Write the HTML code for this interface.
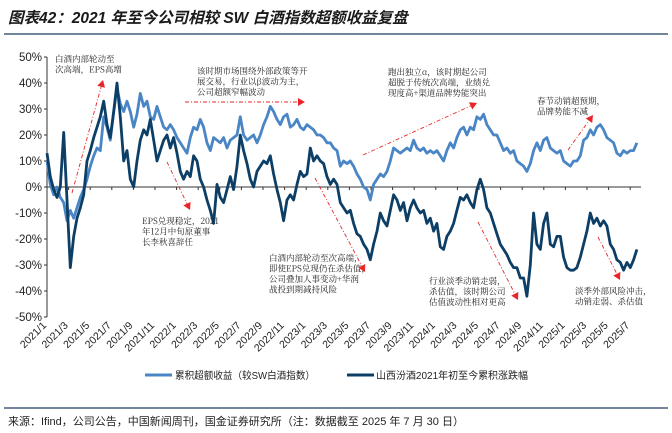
<!DOCTYPE html>
<html><head><meta charset="utf-8">
<style>
body{margin:0;background:#fff;}
svg{display:block;font-family:"Liberation Sans","Noto Sans CJK SC",sans-serif;}
.ann{font-size:8.5px;fill:#222;font-family:"Noto Serif CJK SC","Liberation Serif",serif;}
</style></head><body>
<svg id="chart" width="672" height="433" viewBox="0 0 672 433" xmlns="http://www.w3.org/2000/svg">
<text x="8" y="23" font-size="15.5" font-style="italic" font-weight="bold" fill="#1a1a1a" font-family="Liberation Sans, Noto Sans CJK SC, sans-serif">图表42：2021 年至今公司相较 SW 白酒指数超额收益复盘</text>
<line x1="4" y1="34" x2="668" y2="34" stroke="#1f3f5f" stroke-width="1.3"/>
<g id="axes"></g>
<g id="series"></g>
<g id="annotations"></g>
<g>
 <line x1="145" y1="375" x2="172" y2="375" stroke="#4a86c5" stroke-width="3"/>
 <text x="175" y="379" font-size="10" fill="#222" textLength="140" lengthAdjust="spacingAndGlyphs">累积超额收益（较SW白酒指数）</text>
 <line x1="347" y1="375" x2="374" y2="375" stroke="#0d3f66" stroke-width="3"/>
 <text x="376" y="379" font-size="10" fill="#222" textLength="152" lengthAdjust="spacingAndGlyphs">山西汾酒2021年初至今累积涨跌幅</text>
</g>
<line x1="4" y1="408" x2="668" y2="408" stroke="#1f3f5f" stroke-width="1.3"/>
<text x="8" y="425" font-size="11" fill="#222">来源：Ifind，公司公告，中国新闻周刊，国金证券研究所（注：数据截至 2025 年 7 月 30 日）</text>
</svg>
<script>
const tickLabels=["2021/1","2021/3","2021/5","2021/7","2021/9","2021/11","2022/1","2022/3","2022/5","2022/7","2022/9","2022/11","2023/1","2023/3","2023/5","2023/7","2023/9","2023/11","2024/1","2024/3","2024/5","2024/7","2024/9","2024/11","2025/1","2025/3","2025/5","2025/7"];
const yTicks=[50,40,30,20,10,0,-10,-20,-30,-40,-50];
const stepMonths=0.3086;
const priceSeries=[13,4,-1,-4,0,21,-5,-31,-19,-12,-8,-3,10,14,19,23,27,33,24,19,29,40,27,10,14,3,0,10,18,22,20,26,18,10,14,18,20,15,19,13,6,3,6,4,12,10,3,0,-5,-9,-14,1,-4,-6,-1,4,-1,8,20,14,9,3,0,6,8,10,9,12,5,-1,-6,-13,-5,-3,-5,1,6,4,5,15,10,12,10,9,4,1,3,1,-6,
-8,-10,-9,-14,-18,-19,-22,-24,-28,-22,-17,-10,-13,-15,-9,-3,-5,-9,-6,-13,-8,-5,-8,-10,-9,-14,-12,-17,-14,-23,-24,-19,-17,-14,-9,-4,-5,-3,-6,-8,-1,3,-1,-8,-10,-14,-18,-22,-24,-26,-29,-31,-31,-35,-35,-42,-30,-10,-22,-24,-14,-10,-22,-23,-19,-19,-27,-31,-32,-32,-31,-27,-22,-17,-10,-14,-12,-15,-13,-15,-22,-24,-28,-29,-32,-29,-31,-28,-24];
const excessSeries=[10,1,-3,0,-4,-6,-13,-9,-12,-8,-4,-1,3,8,12,15,14,27,23,18,29,38,32,29,33,29,23,28,36,31,33,27,26,31,27,23,22,24,22,19,17,15,13,19,23,22,26,23,17,14,19,18,17,19,15,18,19,20,27,20,18,19,20,17,20,24,27,31,29,26,24,27,28,23,24,26,23,22,24,23,22,20,20,19,17,17,15,14,8,
10,9,10,8,5,3,0,-1,-5,1,3,5,4,6,10,15,14,13,14,15,14,18,15,14,15,13,14,13,14,12,10,14,17,15,19,22,23,20,23,22,27,26,28,24,22,20,20,17,14,15,13,14,10,9,8,6,9,14,17,14,18,19,15,14,13,14,10,9,8,10,10,12,18,19,22,20,23,24,22,19,18,17,13,12,14,13,14,14,17];
const X0=47, PXM=10.8, Y0=187, PXP=2.6;
function xScale(m){return X0+m*PXM;}
function yScale(v){return Y0-v*PXP;}
const NS="http://www.w3.org/2000/svg";
function mk(tag,attrs,parent){const e=document.createElementNS(NS,tag);for(const k in attrs)e.setAttribute(k,attrs[k]);parent.appendChild(e);return e;}
const axes=document.getElementById('axes');
const yAxis=mk('line',{x1:X0,y1:yScale(50),x2:X0,y2:yScale(-50),stroke:'#333','stroke-width':1},axes);


yTicks.forEach(v=>{
 const t=mk('line',{x1:X0-3,y1:yScale(v),x2:X0,y2:yScale(v),stroke:'#333'},axes);
 
 
 const l=mk('text',{x:X0-5,y:yScale(v)+4,'font-size':11.5,'text-anchor':'end',fill:'#222'},axes);
 l.textContent=v+'%';
 
 
});
const xAxis=mk('line',{x1:X0,y1:Y0,x2:xScale(55),y2:Y0,stroke:'#333','stroke-width':1},axes);


tickLabels.forEach((s,i)=>{
 const x=xScale(i*2);
 const t=mk('line',{x1:x,y1:Y0,x2:x,y2:Y0+3,stroke:'#333'},axes);
 
 
 const l=mk('text',{x:x,y:326,'font-size':10.5,'text-anchor':'end',fill:'#222',transform:`rotate(-45 ${x} 326)`},axes);
 l.textContent=s;
 
 
});
const ser=document.getElementById('series');
function path(arr){return arr.map((v,i)=>(i?'L':'M')+xScale(i*stepMonths).toFixed(1)+' '+yScale(v).toFixed(1)).join(' ');}
const p1=mk('path',{d:path(excessSeries),fill:'none',stroke:'#4a86c5','stroke-width':2.8,'stroke-linejoin':'round'},ser);


const p2=mk('path',{d:path(priceSeries),fill:'none',stroke:'#0d3f66','stroke-width':2.8,'stroke-linejoin':'round'},ser);


const ann=document.getElementById('annotations');
const texts=[
 [55,62,["白酒内部轮动至","次高端，EPS高增"]],
 [197,74,["该时期市场围绕外部政策等开","展交易，行业以β波动为主，","公司超额窄幅波动"]],
 [142,224,["EPS兑现稳定，2021","年12月中旬原董事","长李秋喜辞任"]],
 [269,261,["白酒内部轮动至次高端，","即使EPS兑现仍在杀估值，","公司叠加人事变动+华润","战投到期减持风险"]],
 [388,75,["跑出独立α，该时期起公司","超脱于传统次高端，业绩兑","现度高+渠道品牌势能突出"]],
 [537,104,["春节动销超预期，","品牌势能不减"]],
 [429,284,["行业淡季动销走弱，","杀估值，该时期公司","估值波动性相对更高"]],
 [575,294,["淡季外部风险冲击，","动销走弱、杀估值"]]
];
texts.forEach(([x,y,lines])=>{
 const t=mk('text',{x:x,y:y,class:'ann'},ann);
 
 
 lines.forEach((s,i)=>{const sp=mk('tspan',{x:x,dy:i?10.5:0},t);sp.textContent=s;});
});
const arrows=[[72,193,103,80],[185,102,305,102],[167,162,190,210],[315,178,365,272],[363,155,477,103],[568,150,593,115],[478,222,518,300],[598,237,620,280]];
arrows.forEach(([x1,y1,x2,y2])=>{
 const a=Math.atan2(y2-y1,x2-x1);
 const bx=x2-7*Math.cos(a), by=y2-7*Math.sin(a);
 const l=mk('line',{x1:x1,y1:y1,x2:bx,y2:by,stroke:'#e8262a','stroke-width':0.9,'stroke-dasharray':'4 2 1 2'},ann);
 
 
 const px=-Math.sin(a)*4, py=Math.cos(a)*4;
 const h=mk('polygon',{points:`${x2},${y2} ${bx+px},${by+py} ${bx-px},${by-py}`,fill:'#e8262a'},ann);
 
 
});
</script>
</body></html>
